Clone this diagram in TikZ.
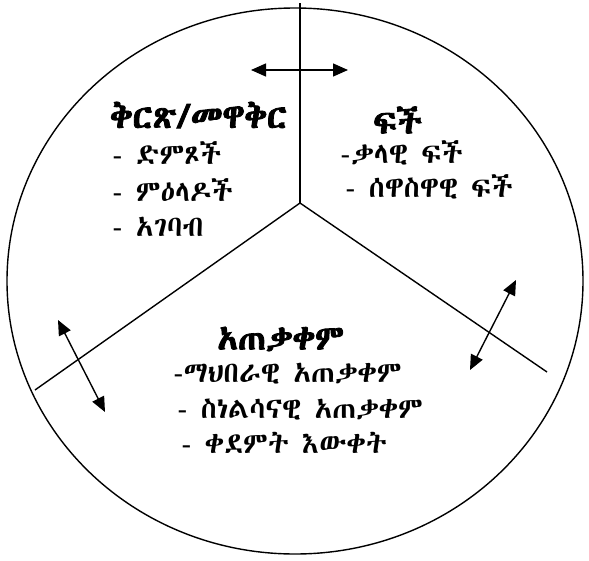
\documentclass[tikz,border=0pt]{standalone}
\usepackage{fontspec}
\IfFontExistsTF{FreeSerif.otf}{%
  \newfontfamily\ethi{FreeSerif.otf}%
  \newfontfamily\ethib{FreeSerif.otf}[FakeBold=2.5]%
}{%
  \IfFontExistsTF{Abyssinica SIL}{%
    \newfontfamily\ethi{Abyssinica SIL}%
    \newfontfamily\ethib{Abyssinica SIL}[FakeBold=2.5]%
  }{%
    \newfontfamily\ethi{DejaVu Sans}%
    \newfontfamily\ethib{DejaVu Sans}[FakeBold=2.5]%
  }%
}
\usetikzlibrary{arrows.meta}
\tikzset{
  body/.style={anchor=west,inner sep=0pt,font=\ethi\fontsize{29}{32}\selectfont},
  head/.style={anchor=west,inner sep=0pt,font=\ethib\fontsize{34}{38}\selectfont},
  spoke/.style={line width=1.4pt},
  dbl/.style={line width=1.4pt,{Triangle[length=15pt,width=13pt]}-{Triangle[length=15pt,width=13pt]}}
}
\begin{document}
\begin{tikzpicture}[x=1pt,y=-1pt]
\useasboundingbox (0,0) rectangle (589,560);
\draw[line width=1.4pt] (295,281) ellipse [x radius=288, y radius=273];
\coordinate (c) at (300,203);
\coordinate (top) at (300,3);
\coordinate (left) at (35,390);
\coordinate (right) at (547,372);
\draw[spoke] (c) -- (top);
\draw[spoke] (c) -- (left);
\draw[spoke] (c) -- (right);
\coordinate (a1) at (251,70);
\coordinate (a2) at (348,70);
\coordinate (b1) at (58,320);
\coordinate (b2) at (105,412);
\coordinate (d1) at (516,280);
\coordinate (d2) at (470,370);
\draw[dbl] (a1) -- (a2);
\draw[dbl] (b1) -- (b2);
\draw[dbl] (d1) -- (d2);
\node[head] (h1) at (110,115) {ቅርጽ/መዋቅር};
\node[body] (l1) at (112,153) {- ድምጾች};
\node[body] (l2) at (112,190) {-  ምዕላዶች};
\node[body] (l3) at (112,227) {- አገባብ};
\node[head] (h2) at (373,120) {ፍች};
\node[body] (r1) at (340,153) {-ቃላዊ ፍች};
\node[body] (r2) at (345,187) {- ሰዋስዋዊ ፍች};
\node[head] (h3) at (217,339) {አጠቃቀም};
\node[body] (m1) at (173,374) {-ማህበራዊ አጠቃቀም};
\node[body] (m2) at (177,410) {- ስነልሳናዊ አጠቃቀም};
\node[body] (m3) at (181,443) {- ቀደምት እውቀት};
\end{tikzpicture}
\end{document}
